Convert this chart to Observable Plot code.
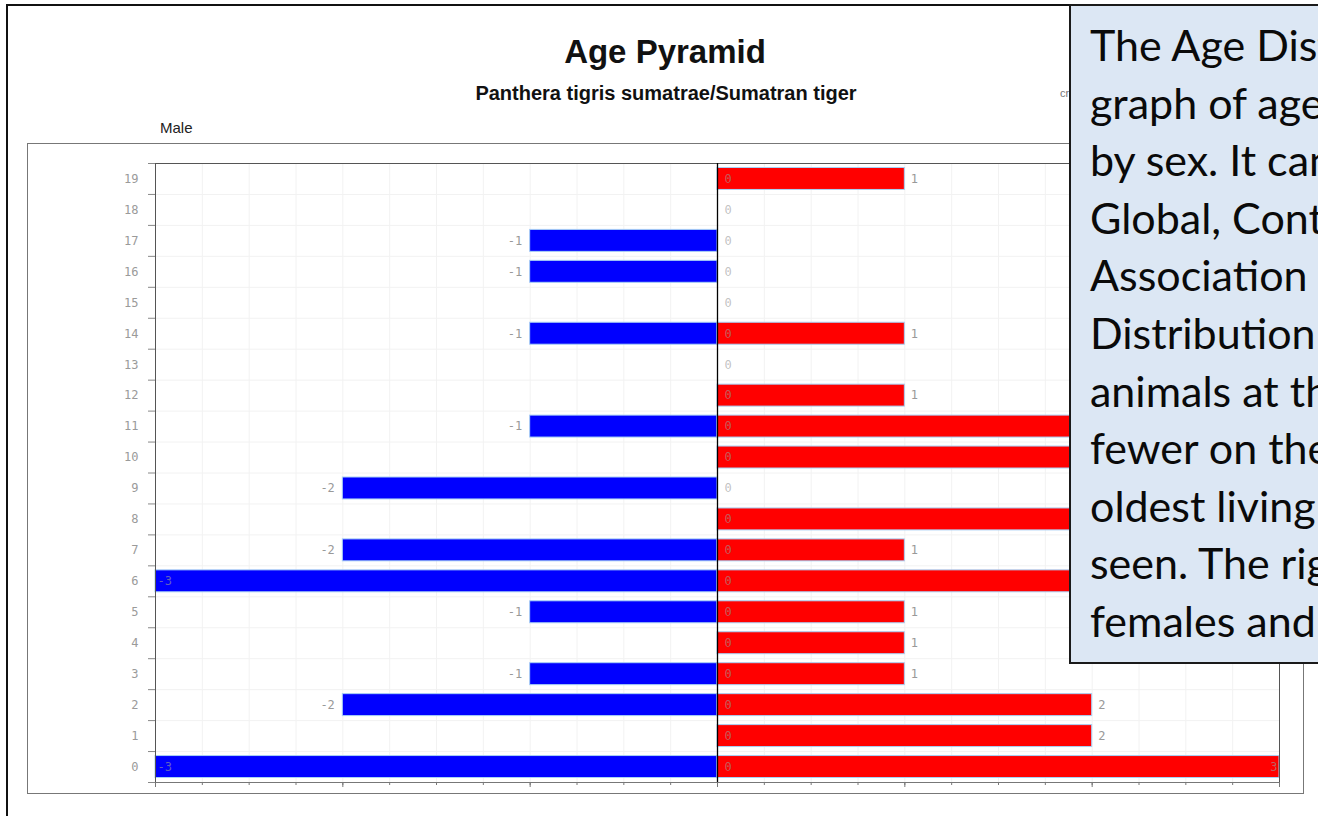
<!DOCTYPE html>
<html>
<head>
<meta charset="utf-8">
<script src="https://cdn.jsdelivr.net/npm/d3@7"></script>
<script src="https://cdn.jsdelivr.net/npm/@observablehq/plot@0.6"></script>
<style>
html, body { margin: 0; padding: 0; width: 1318px; height: 816px; overflow: hidden; background: #fff; }
#stage { position: relative; width: 1318px; height: 816px; overflow: hidden; }
#outer { position: absolute; left: 6px; top: 4px; width: 1500px; height: 900px; border: 2px solid #111; box-sizing: border-box; }
#title { position: absolute; left: 415px; width: 500px; top: 35px; text-align: center; font: bold 33px/33px "Liberation Sans", Arial, sans-serif; color: #111; }
#subtitle { position: absolute; left: 316px; width: 700px; top: 83px; text-align: center; font: bold 20px/20px "Liberation Sans", Arial, sans-serif; color: #111; }
#credit { position: absolute; left: 1060px; top: 88px; font: 11px/11px "Liberation Sans", Arial, sans-serif; color: #777; white-space: nowrap; }
#male { position: absolute; left: 160px; top: 120px; font: 15px/15px "Liberation Sans", Arial, sans-serif; color: #222; }
#female { position: absolute; left: 1235px; top: 120px; font: 15px/15px "Liberation Sans", Arial, sans-serif; color: #222; }
#inner { position: absolute; left: 27px; top: 143px; width: 1277px; height: 651px; border: 1px solid #777; box-sizing: border-box; }
#chart { position: absolute; left: 27px; top: 143px; }
#chart svg { display: block; }
#note { position: absolute; left: 1069px; top: 4px; width: 400px; height: 660px; box-sizing: border-box; border: 2px solid #1a1a1a; background: #dce7f4; overflow: hidden; }
#note div { position: absolute; left: 19px; white-space: nowrap; font-family: Lato, "Open Sans", sans-serif; font-size: 43px; line-height: 43px; color: #0a0a0a; }
</style>
</head>
<body>
<div id="stage">
  <div id="outer"></div>
  <div id="title">Age Pyramid</div>
  <div id="subtitle">Panthera tigris sumatrae/Sumatran tiger</div>
  <div id="credit">created with ZIMS</div>
  <div id="male">Male</div>
  <div id="female">Female</div>
  <div id="inner"></div>
  <div id="chart"></div>
  <div id="note"></div>
</div>
<script>
// ---- data ----
const ages   = [0, 1, 2, 3, 4, 5, 6, 7, 8, 9, 10, 11, 12, 13, 14, 15, 16, 17, 18, 19];
const male   = [-3, 0, -2, -1, 0, -1, -3, -2, 0, -2, 0, -1, 0, 0, -1, 0, -1, -1, 0, 0];
const female = [3, 2, 2, 1, 1, 1, 2, 1, 2, 0, 2, 2, 1, 0, 1, 0, 0, 0, 0, 1];
const xMajorTicks = [-3, -2, -1, 0, 1, 2, 3];
const xMinorTicks = [-3, -2.75, -2.5, -2.25, -2, -1.75, -1.5, -1.25, -1, -0.75, -0.5, -0.25, 0,
                     0.25, 0.5, 0.75, 1, 1.25, 1.5, 1.75, 2, 2.25, 2.5, 2.75, 3];
const noteLines = [
  "The Age Distribution is a",
  "graph of ages of animals",
  "by sex. It can be run at",
  "Global, Continental,",
  "Association or Institution",
  "Distribution level, with",
  "animals at the bottom and",
  "fewer on the top; the",
  "oldest living animals are",
  "seen. The right side shows",
  "females and the left males."
];

const rows = ages.map((a, i) => ({age: a, male: male[i], female: female[i]}));
const xMin = d3.min(xMajorTicks), xMax = d3.max(xMajorTicks);
const rowEdges = ages.concat([ages.length]);

const labelFont = "DejaVu Sans Mono, monospace";

const chart = Plot.plot({
  width: 1277,
  height: 651,
  marginLeft: 128,
  marginRight: 25,
  marginTop: 20,
  marginBottom: 12,
  x: {domain: [xMin, xMax], axis: null, label: null},
  y: {domain: [0, ages.length], axis: null, label: null},
  style: {background: "transparent", fontFamily: labelFont, fontSize: "12px", overflow: "visible"},
  marks: [
    // grid
    Plot.ruleX(xMinorTicks, {stroke: "#f2f2f2", strokeWidth: 1}),
    Plot.ruleY(rowEdges, {stroke: "#f2f2f2", strokeWidth: 1}),
    // bars
    Plot.rectX(rows.filter(d => d.male < 0), {
      x1: 0, x2: "male", y1: "age", y2: d => d.age + 1,
      insetTop: 4.5, insetBottom: 4.5, fill: "#0000ff", stroke: "#a8d0f5", strokeWidth: 1
    }),
    Plot.rectX(rows.filter(d => d.female > 0), {
      x1: 0, x2: "female", y1: "age", y2: d => d.age + 1,
      insetTop: 4.5, insetBottom: 4.5, fill: "#ff0000", stroke: "#a8d0f5", strokeWidth: 1
    }),
    // frame and zero line
    Plot.frame({stroke: "#555", strokeWidth: 1}),
    Plot.ruleX([0], {stroke: "#000", strokeWidth: 1.3}),
    // y axis
    Plot.axisY(ages.map(a => a + 0.5), {
      tickFormat: d => String(d - 0.5), tickSize: 0, tickPadding: 17, label: null,
      fill: "#9a9a9a", fontFamily: labelFont, fontSize: 12
    }),
    Plot.axisY(rowEdges, {tickFormat: () => "", tickSize: 7, stroke: "#888", label: null}),
    // x axis ticks (no labels)
    Plot.axisX(xMinorTicks, {anchor: "bottom", tickFormat: () => "", tickSize: 3, tickPadding: 0, stroke: "#777", label: null}),
    Plot.axisX(xMajorTicks, {anchor: "bottom", tickFormat: () => "", tickSize: 5, tickPadding: 0, stroke: "#777", label: null}),
    Plot.ruleY([0], {stroke: "#777"}),
    // male value labels
    Plot.text(rows.filter(d => d.male < 0 && d.male > xMin), {
      x: "male", y: d => d.age + 0.5, text: d => String(d.male),
      textAnchor: "end", dx: -8, fill: "#999", fontFamily: labelFont, fontSize: 12
    }),
    Plot.text(rows.filter(d => d.male === xMin), {
      x: "male", y: d => d.age + 0.5, text: d => String(d.male),
      textAnchor: "start", dx: 2, fill: "#999", fillOpacity: 0.65, fontFamily: labelFont, fontSize: 12
    }),
    // female base labels
    Plot.text(rows, {
      x: 0, y: d => d.age + 0.5, text: () => "0",
      textAnchor: "start", dx: 7, fill: "#999", fillOpacity: 0.6, fontFamily: labelFont, fontSize: 12
    }),
    // female value labels
    Plot.text(rows.filter(d => d.female > 0 && d.female < xMax), {
      x: "female", y: d => d.age + 0.5, text: d => String(d.female),
      textAnchor: "start", dx: 6, fill: "#999", fontFamily: labelFont, fontSize: 12
    }),
    Plot.text(rows.filter(d => d.female === xMax), {
      x: "female", y: d => d.age + 0.5, text: d => String(d.female),
      textAnchor: "end", dx: -2, fill: "#999", fillOpacity: 0.65, fontFamily: labelFont, fontSize: 12
    })
  ]
});
document.getElementById("chart").appendChild(chart);

const note = document.getElementById("note");
noteLines.forEach((t, i) => {
  const div = document.createElement("div");
  div.textContent = t;
  div.style.top = (17 + i * 57.6) + "px";
  note.appendChild(div);
});
</script>
</body>
</html>
